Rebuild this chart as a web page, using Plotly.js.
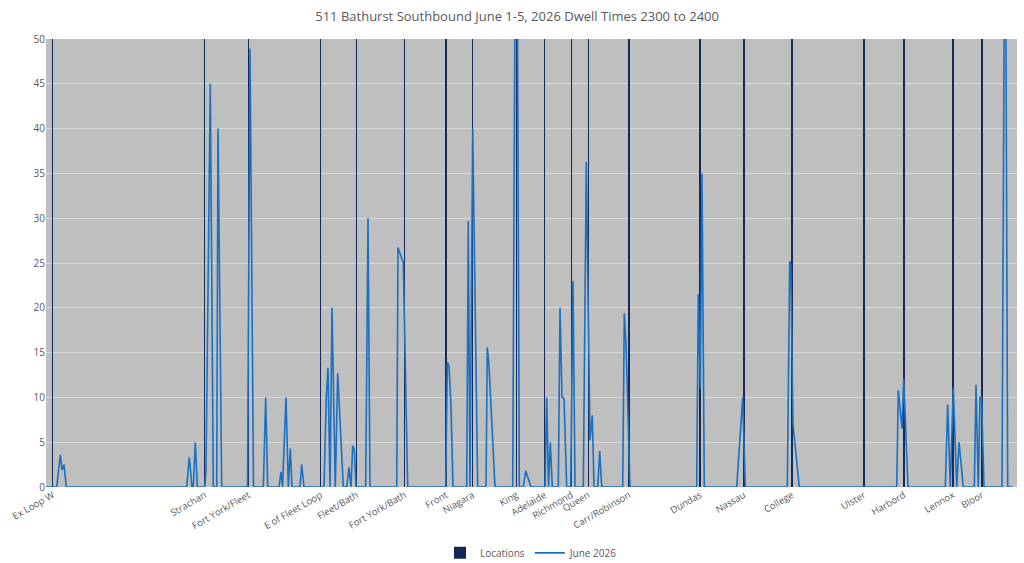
<!DOCTYPE html>
<html>
<head>
<meta charset="utf-8">
<script src="https://cdn.plot.ly/plotly-3.0.1.min.js"></script>
<style>
  html, body { margin: 0; padding: 0; background: #ffffff; }
  #chart { width: 1024px; height: 563px; }
</style>
</head>
<body>
<div id="chart"></div>
<script>
// stop names and where they sit along the route
var stopNames = ["Ex Loop W", "Strachan", "Fort York/Fleet", "E of Fleet Loop", "Fleet/Bath",
	"Fort York/Bath", "Front", "Niagara", "King", "Adelaide", "Richmond", "Queen",
	"Carr/Robinson", "Dundas", "Nassau", "College", "Ulster", "Harbord", "Lennox", "Bloor"];
var stopDist = [6.7, 158.7, 202.5, 274.7, 310.7, 358.7, 400, 426.7, 470.3, 498.7,
	525.3, 542.3, 583, 654, 698, 746, 818, 858, 907, 936];
var stopHeight = [50, 50, 50, 50, 50, 50, 50, 50, 50, 50,
	50, 50, 50, 50, 50, 50, 50, 50, 50, 50];

// June 2026 dwell times (seconds) along the route
var dwellDist = [0,
	10.7, 14.3, 16, 18, 20.3,
	140.7, 143.3, 146, 147.3, 149.3, 151.3,
	158.7, 160, 164.3, 167.3, 170.7, 172, 175.7,
	201.5, 204, 207.5,
	217.3, 219.7, 221.7,
	233, 235, 236.5, 240, 242.3, 244.3, 246,
	254, 255.7, 258,
	278, 280.3, 282, 284, 286, 289.3, 291.7, 297.3,
	300.7, 303, 305, 306.7, 308.3, 310,
	319.7, 322, 324,
	350.7, 352, 357.3, 361.7,
	399.7, 401.3, 403, 405, 407,
	420.7, 422.3, 424, 426.7, 431.7,
	440, 441.3, 443, 449,
	466.7, 469.3, 471.3, 473.3,
	477.3, 479.7, 485,
	499, 500.7, 502.5, 504.3, 506.3,
	512.3, 514, 516, 518, 520.7,
	524.7, 527, 529,
	537.3, 540.3, 544, 546.3, 548,
	551.7, 553.7, 555.7,
	576.7, 578.3, 580, 584,
	650.7, 652.3, 654.3, 656, 658.3,
	690.7, 696.7, 699.3,
	741.3, 743.7, 744.8, 747, 753.3,
	850.7, 852.3, 856, 857.7, 862,
	899.3, 901.7, 904.3, 907.3, 910.7, 913, 917.3,
	928.3, 930, 932.3, 934, 935.5, 938,
	956, 958.5, 959.7, 961.7,
	967];
var dwellJune = [0,
	0, 3.6, 1.9, 2.5, 0,
	0, 3.3, 0, 0, 5, 0,
	0, 1.7, 45, 0, 0, 40, 0,
	0, 48.9, 0,
	0, 10, 0,
	0, 1.7, 0, 10, 0, 4.3, 0,
	0, 2.5, 0,
	0, 10, 13.3, 0, 20, 0, 12.7, 0,
	0, 2.2, 0, 4.6, 4.1, 0,
	0, 30, 0,
	0, 26.7, 25, 0,
	0, 13.9, 13.5, 9, 0,
	0, 29.7, 0, 40, 0,
	0, 15.6, 13.5, 0,
	0, 62, 58, 0,
	0, 1.8, 0,
	0, 10, 0, 5, 0,
	0, 20, 10, 9.9, 0,
	0, 23, 0,
	0, 36.3, 5.2, 8, 0,
	0, 4, 0,
	0, 19.4, 16, 0,
	0, 21.5, 11, 35, 0,
	0, 10, 0,
	0, 25.2, 24.8, 7, 0,
	0, 10.8, 6.5, 12.1, 0,
	0, 9.2, 0, 11.1, 0, 5, 0,
	0, 11.4, 0, 10, 10, 0,
	0, 60, 58, 0,
	0];

var locationsTrace = {
	x: stopDist,
	y: stopHeight,
	type: 'bar',
	name: 'Locations',
	width: 1.3,
	marker: { color: '#13295a', line: { width: 0 } }
};

var juneTrace = {
	x: dwellDist,
	y: dwellJune,
	type: 'scatter',
	mode: 'lines',
	name: 'June 2026',
	line: { color: '#1a6fc1', width: 1.6 }
};

var layout = {
	width: 1024,
	height: 563,
	margin: { l: 46, r: 7, t: 39, b: 76 },
	paper_bgcolor: '#ffffff',
	plot_bgcolor: '#bfbfbf',
	font: { family: 'Open Sans, sans-serif', color: '#595959', size: 10 },
	title: {
		text: '511 Bathurst Southbound June 1-5, 2026 Dwell Times 2300 to 2400',
		font: { family: 'Open Sans, sans-serif', size: 13, color: '#595959' },
		x: 0.505,
		xanchor: 'center',
		y: 0.97,
		yanchor: 'middle'
	},
	xaxis: {
		range: [0, 971],
		tickmode: 'array',
		tickvals: stopDist,
		ticktext: stopNames,
		tickangle: -30,
		showgrid: false,
		zeroline: false,
		showline: false,
		ticks: '',
		automargin: false,
		tickfont: { size: 9.5, color: '#595959' },
		fixedrange: true
	},
	yaxis: {
		range: [0, 50],
		dtick: 5,
		showgrid: true,
		gridcolor: '#d9d9d9',
		gridwidth: 1,
		zeroline: false,
		showline: false,
		ticks: '',
		automargin: false,
		tickfont: { size: 10, color: '#595959' },
		fixedrange: true
	},
	showlegend: true,
	legend: {
		orientation: 'h',
		x: 0.5,
		xanchor: 'center',
		yref: 'container',
		y: 0.018,
		yanchor: 'middle',
		font: { size: 10, color: '#595959' }
	},
	bargap: 0,
	hovermode: false
};

Plotly.newPlot('chart', [locationsTrace, juneTrace], layout, { displayModeBar: false, staticPlot: true });
</script>
</body>
</html>
